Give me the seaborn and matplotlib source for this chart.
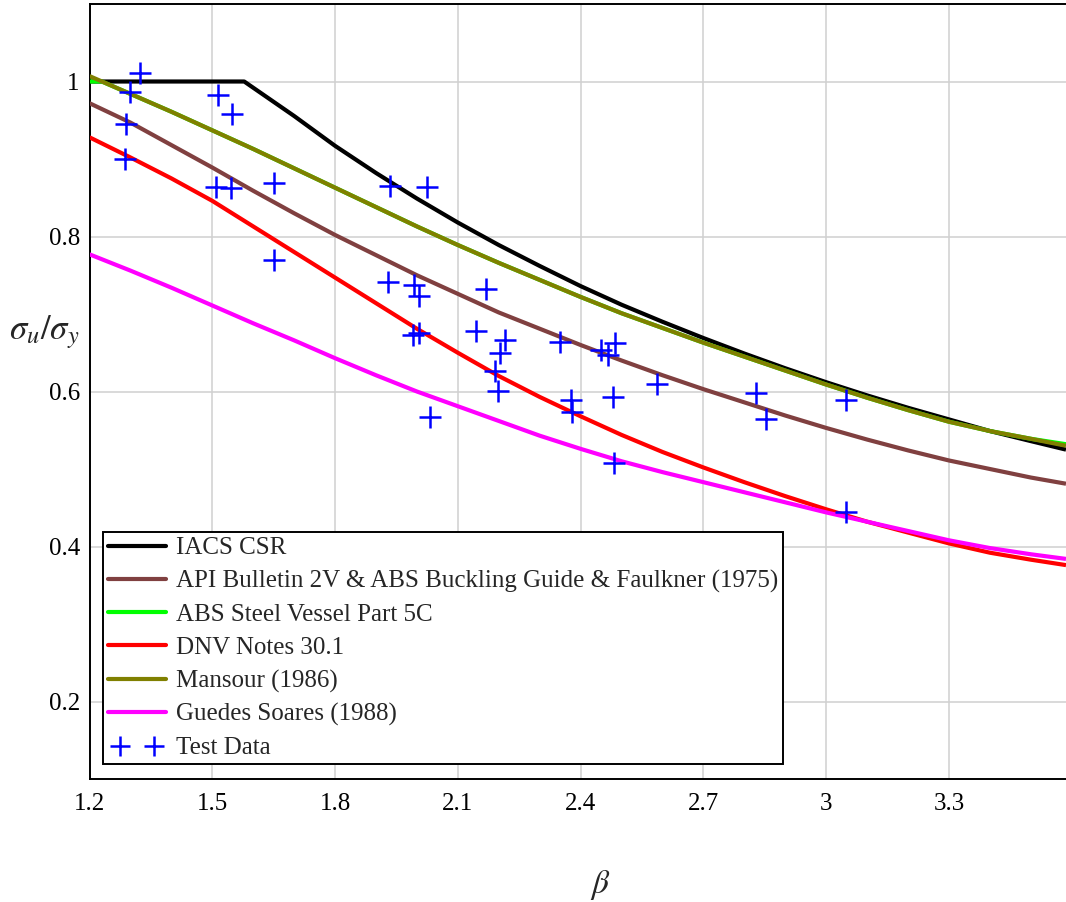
import matplotlib
matplotlib.use("Agg")
import matplotlib.pyplot as plt
import seaborn as sns
from matplotlib.lines import Line2D
from matplotlib.legend_handler import HandlerLine2D

# --- curve data: slenderness beta vs normalised ultimate strength ---
beta_csr = [1.2, 1.4, 1.578, 1.7, 1.8, 1.9, 2.0, 2.1, 2.2, 2.3, 2.4, 2.5,
            2.6, 2.7, 2.8, 2.9, 3.0, 3.1, 3.2, 3.3, 3.4, 3.5, 3.586]
iacs_csr = [1.0, 1.0, 1.0, 0.9555, 0.917, 0.882, 0.849, 0.818, 0.789,
            0.762, 0.736, 0.712, 0.690, 0.669, 0.649, 0.630, 0.612, 0.595,
            0.579, 0.564, 0.549, 0.536, 0.525]

beta_std = [1.2, 1.3, 1.4, 1.5, 1.6, 1.7, 1.8, 1.9, 2.0, 2.1, 2.2, 2.3, 2.4,
            2.5, 2.6, 2.7, 2.8, 2.9, 3.0, 3.1, 3.2, 3.3, 3.4, 3.5, 3.586]
api_abs = [0.972, 0.947, 0.918, 0.889, 0.859, 0.830, 0.802, 0.776, 0.750,
           0.726, 0.702, 0.681, 0.660, 0.640, 0.621, 0.603, 0.586, 0.569,
           0.553, 0.538, 0.524, 0.511, 0.500, 0.489, 0.481]
mansour = [1.007, 0.984, 0.961, 0.937, 0.913, 0.888, 0.863, 0.838, 0.813,
           0.789, 0.766, 0.744, 0.722, 0.701, 0.682, 0.663, 0.645, 0.627,
           0.609, 0.592, 0.576, 0.561, 0.549, 0.539, 0.530]
dnv = [0.928, 0.902, 0.875, 0.846, 0.813, 0.780, 0.747, 0.714, 0.681, 0.650,
       0.620, 0.593, 0.568, 0.544, 0.522, 0.502, 0.483, 0.465, 0.448, 0.432,
       0.418, 0.404, 0.392, 0.383, 0.376]
guedes = [0.777, 0.756, 0.734, 0.711, 0.688, 0.666, 0.643, 0.621, 0.600,
          0.581, 0.562, 0.543, 0.526, 0.510, 0.496, 0.483, 0.470, 0.457,
          0.444, 0.432, 0.420, 0.408, 0.398, 0.390, 0.384]

beta_abs = [1.2, 1.23, 1.3, 1.4, 1.5, 1.6, 1.7, 1.8, 1.9, 2.0, 2.1, 2.2, 2.3,
            2.4, 2.5, 2.6, 2.7, 2.8, 2.9, 3.0, 3.1, 3.2, 3.3, 3.4, 3.5, 3.586]
abs_5c = [1.0, 1.0, 0.984, 0.961, 0.937, 0.913, 0.888, 0.863, 0.838, 0.813,
          0.789, 0.766, 0.744, 0.722, 0.701, 0.682, 0.663, 0.645, 0.627,
          0.609, 0.592, 0.576, 0.561, 0.549, 0.539, 0.532]

# --- test results ---
test_beta = [1.323, 1.300, 1.290, 1.286, 1.514, 1.549, 1.510, 1.545, 1.652,
             1.652, 1.934, 2.024, 1.930, 1.993, 2.006, 2.170, 1.991, 2.006,
             2.144, 2.215, 2.203, 2.192, 2.199, 2.032, 2.350, 2.449, 2.468,
             2.484, 2.376, 2.380, 2.478, 2.481, 2.586, 2.828, 2.854, 3.048,
             3.048]
test_sigma = [1.011, 0.986, 0.945, 0.900, 0.982, 0.958, 0.864, 0.862, 0.869,
              0.770, 0.865, 0.864, 0.741, 0.737, 0.723, 0.732, 0.673, 0.676,
              0.678, 0.666, 0.650, 0.627, 0.601, 0.567, 0.664, 0.653, 0.647,
              0.662, 0.589, 0.573, 0.593, 0.508, 0.610, 0.598, 0.565, 0.589,
              0.444]

labels = ["IACS CSR",
          "API Bulletin 2V & ABS Buckling Guide & Faulkner (1975)",
          "ABS Steel Vessel Part 5C",
          "DNV Notes 30.1",
          "Mansour (1986)",
          "Guedes Soares (1988)",
          "Test Data"]
x_ticks = [1.2, 1.5, 1.8, 2.1, 2.4, 2.7, 3.0, 3.3]
y_ticks = [0.2, 0.4, 0.6, 0.8, 1.0]

sns.set_theme(style="white")
plt.rcParams["font.family"] = ["Liberation Serif", "DejaVu Serif"]
plt.rcParams["mathtext.fontset"] = "stix"

fig = plt.figure(figsize=(10.66, 9.02), dpi=100)
ax = fig.add_axes([0.08396, 0.13636, 0.91604, 0.8592])

series = [
    (beta_csr, iacs_csr, "#000000", labels[0]),
    (beta_std, api_abs, "#804040", labels[1]),
    (beta_abs, abs_5c, "#00ff00", labels[2]),
    (beta_std, dnv, "#ff0000", labels[3]),
    (beta_std, mansour, "#808000", labels[4]),
    (beta_std, guedes, "#ff00ff", labels[5]),
]
handles = []
for xs, ys, col, lab in series:
    sns.lineplot(x=xs, y=ys, color=col, lw=3.0, ax=ax, sort=False,
                 estimator=None, legend=False, zorder=3,
                 solid_joinstyle="round", solid_capstyle="butt")
    handles.append(Line2D([], [], color=col, lw=3.0))

sns.scatterplot(x=test_beta, y=test_sigma, marker="+", s=230, color="#0000ff",
                linewidth=1.8, ax=ax, legend=False, zorder=5)
test_handle = Line2D([], [], ls="none", marker="+", markersize=15,
                     markeredgewidth=1.8, color="#0000ff")
handles.append(test_handle)

ax.set_xlim(1.2, 3.586)
ax.set_ylim(0.1, 1.1)
ax.set_xticks(x_ticks)
ax.set_yticks(y_ticks)
ax.set_xticklabels([f"{v:g}" for v in x_ticks])
ax.set_yticklabels([f"{v:g}" for v in y_ticks])
ax.tick_params(axis="both", labelsize=18, length=0, colors="black")
ax.tick_params(axis="x", pad=10)
ax.tick_params(axis="y", pad=7)
ax.grid(True, color="#d0d0d0", lw=1.1)
ax.set_axisbelow(True)

for side in ("left", "bottom", "top"):
    ax.spines[side].set_color("black")
    ax.spines[side].set_linewidth(1.4)
ax.spines["right"].set_visible(False)

ax.set_xlabel(r"$\beta$", fontsize=24, va="center")
ax.xaxis.set_label_coords(0.523, -0.137)
ax.set_ylabel(r"$\sigma_u/\sigma_y$", fontsize=25, rotation=0,
              va="center", ha="center")
ax.yaxis.set_label_coords(-0.046, 0.577)

leg = ax.legend(handles, labels, loc="lower left",
                bbox_to_anchor=(0.0138, 0.019), borderaxespad=0,
                fontsize=18, frameon=True, fancybox=False,
                handlelength=2.32, handletextpad=0.4, labelspacing=0.42,
                borderpad=0.2,
                handler_map={Line2D: HandlerLine2D(marker_pad=0),
                             test_handle: HandlerLine2D(numpoints=2,
                                                        marker_pad=0.48)})
leg.get_frame().set_edgecolor("black")
leg.get_frame().set_linewidth(1.4)
leg.get_frame().set_alpha(1)

fig.savefig("out.png", dpi=100)
